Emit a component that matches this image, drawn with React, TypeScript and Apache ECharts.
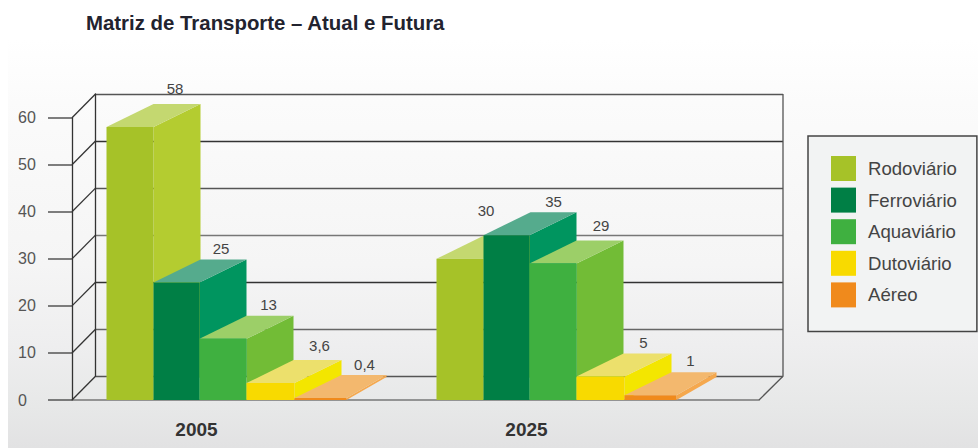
import React, { useEffect, useRef } from "react";
import * as echarts from "echarts";

const years = ["2005", "2025"];
const yTicks = [0, 10, 20, 30, 40, 50, 60];

const rodoviario = [58, 30];
const ferroviario = [25, 35];
const aquaviario = [13, 29];
const dutoviario = [3.6, 5];
const aereo = [0.4, 1];

const modes = ["Rodoviário", "Ferroviário", "Aquaviário", "Dutoviário", "Aéreo"];
const modeValues = [rodoviario, ferroviario, aquaviario, dutoviario, aereo];

// Face colours per mode: front, side, top.
const frontColors = ["#a6c228", "#007f45", "#3fb040", "#f8da00", "#f08a1c"];
const sideColors = ["#b4cc30", "#00955f", "#72bc36", "#f3e600", "#f5a84e"];
const topColors = ["#c4d870", "#55ab8d", "#9ccf68", "#ece06c", "#f3b86e"];

// Back wall line shades, from the top line down.
const wallLineColors = ["#555", "#333", "#555", "#777", "#333", "#666", "#555"];

const FONT = '"Liberation Sans", Arial, sans-serif';

const FRONT = { left: 72, top: 117.7, width: 687, height: 282.3 };
const BARS = { left: 31.5, width: 660 };
const WALL = { dx: 23.5, dy: 23.7 };

// Horizontal bar edges relative to the centre of a year's band.
const BAR_EDGES = [-90, -43, 3, 50, 98, 150];
const DEPTH_X = 47;
const DEPTH_Y = 23;
const THIN_DEPTH_X = 40;

// Per-label adjustments [dx, dy] so a value clears the neighbouring blocks.
const LABEL_NUDGE = [
  [[-2, -5], [-21, -14]],
  [[-2.5, 0], [0, 0]],
  [[-1.5, 0], [1, -4]],
  [[2, -4], [-4, 0]],
  [[-3, 0], [-7, -1]],
];

function formatValue(v: number) {
  return String(v).replace(".", ",");
}

function blockSeries(modeIndex: number) {
  return {
    type: "custom",
    name: modes[modeIndex],
    xAxisIndex: 1,
    yAxisIndex: 1,
    z: 3 + modeIndex,
    itemStyle: { color: frontColors[modeIndex] },
    encode: { x: 0, y: 1 },
    data: modeValues[modeIndex].map((v, i) => [i, v]),
    renderItem: (_params: any, api: any) => {
      const yearIndex = api.value(0);
      const value = api.value(1);
      const [cx, yTop] = api.coord([yearIndex, value]);
      const yBase = api.coord([yearIndex, 0])[1];
      const x0 = cx + BAR_EDGES[modeIndex];
      const x1 = cx + BAR_EDGES[modeIndex + 1];
      const rightDepth = modeIndex === 4 ? THIN_DEPTH_X : DEPTH_X;
      const [nudgeX, nudgeY] = LABEL_NUDGE[modeIndex][yearIndex];
      const face = (points: number[][], fill: string) => ({
        type: "polygon",
        shape: { points },
        style: { fill },
      });
      return {
        type: "group",
        children: [
          face(
            [
              [x1, yBase],
              [x1 + rightDepth, yBase - DEPTH_Y],
              [x1 + rightDepth, yTop - DEPTH_Y],
              [x1, yTop],
            ],
            sideColors[modeIndex]
          ),
          face(
            [
              [x0, yTop],
              [x0 + DEPTH_X, yTop - DEPTH_Y],
              [x1 + rightDepth, yTop - DEPTH_Y],
              [x1, yTop],
            ],
            topColors[modeIndex]
          ),
          face(
            [
              [x0, yBase],
              [x0, yTop],
              [x1, yTop],
              [x1, yBase],
            ],
            frontColors[modeIndex]
          ),
          {
            type: "text",
            x: (x0 + x1) / 2 + DEPTH_X + nudgeX,
            y: yTop - DEPTH_Y - 11 + nudgeY,
            style: {
              text: formatValue(value),
              font: `15px ${FONT}`,
              fill: "#444",
              textAlign: "center",
              textVerticalAlign: "middle",
            },
          },
        ],
      };
    },
  };
}

// Floor and side wall edges joining the front axis to the back wall.
const frameSeries = {
  type: "custom",
  name: "frame",
  xAxisIndex: 0,
  yAxisIndex: 0,
  z: 2,
  silent: true,
  encode: { y: 1 },
  data: yTicks.map((t) => [0, t]),
  renderItem: (params: any, api: any) => {
    const sys = params.coordSys;
    const value = api.value(1);
    const y = api.coord([0, value])[1];
    const line = { stroke: "#333", lineWidth: 1.3, fill: "none" };
    const children: any[] = [
      {
        type: "polyline",
        shape: {
          points: [
            [sys.x, y],
            [sys.x + WALL.dx, y - WALL.dy],
          ],
        },
        style: line,
      },
    ];
    if (value === 0) {
      const xr = sys.x + sys.width;
      children.push({
        type: "polyline",
        shape: {
          points: [
            [xr, y],
            [xr + WALL.dx + 0.5, y - WALL.dy],
            [xr + WALL.dx + 0.5, sys.y - WALL.dy],
          ],
        },
        style: { ...line, stroke: "#555" },
      });
    }
    return { type: "group", children };
  },
};

const valueAxisBase = { type: "value", min: 0, max: 60, interval: 10 };

const option: any = {
  animation: false,
  title: {
    text: "Matriz de Transporte – Atual e Futura",
    left: 86,
    top: 13,
    padding: 0,
    textStyle: { fontFamily: FONT, fontSize: 20.4, fontWeight: "bold", color: "#22232f" },
  },
  legend: {
    data: modes,
    orient: "vertical",
    left: 808,
    top: 136,
    padding: [20, 20, 24, 23],
    icon: "rect",
    itemWidth: 25,
    itemHeight: 25,
    itemGap: 6.6,
    selectedMode: false,
    backgroundColor: "#f2f3f3",
    borderColor: "#444",
    borderWidth: 1.5,
    textStyle: { fontFamily: FONT, fontSize: 18.6, color: "#444", padding: [0, 0, 0, 7] },
  },
  grid: [
    { left: FRONT.left, top: FRONT.top, width: FRONT.width, height: FRONT.height },
    { left: BARS.left, top: FRONT.top, width: BARS.width, height: FRONT.height },
    {
      left: FRONT.left + WALL.dx,
      top: FRONT.top - WALL.dy,
      width: FRONT.width + 0.5,
      height: FRONT.height,
    },
  ],
  xAxis: [
    {
      gridIndex: 0,
      type: "category",
      data: years,
      axisTick: { show: false },
      axisLabel: { show: false },
      axisLine: { lineStyle: { color: "#777", width: 1.5 } },
    },
    {
      gridIndex: 1,
      type: "category",
      data: years,
      axisTick: { show: false },
      axisLine: { show: false },
      axisLabel: {
        margin: 20,
        fontFamily: FONT,
        fontSize: 19,
        fontWeight: "bold",
        color: "#333",
      },
    },
    {
      gridIndex: 2,
      type: "category",
      data: years,
      show: false,
    },
  ],
  yAxis: [
    {
      ...valueAxisBase,
      gridIndex: 0,
      axisLine: { show: true, lineStyle: { color: "#333", width: 1.3 } },
      axisTick: { show: true, length: 24, lineStyle: { color: "#555", width: 1.5 } },
      axisLabel: {
        margin: 54,
        align: "left",
        fontFamily: FONT,
        fontSize: 16,
        color: "#555",
      },
      splitLine: { show: false },
    },
    { ...valueAxisBase, gridIndex: 1, show: false },
    {
      ...valueAxisBase,
      gridIndex: 2,
      axisLine: { show: true, lineStyle: { color: "#333", width: 1.3 } },
      axisTick: { show: false },
      axisLabel: { show: false },
      splitLine: {
        show: true,
        lineStyle: { color: wallLineColors.slice().reverse(), width: 1.4 },
      },
    },
  ],
  series: [frameSeries, ...modes.map((_, i) => blockSeries(i))],
};

export default function App() {
  const ref = useRef<HTMLDivElement>(null);

  useEffect(() => {
    const chart = echarts.init(ref.current!, undefined, { renderer: "svg" });
    chart.setOption(option);
    return () => chart.dispose();
  }, []);

  return (
    <div
      ref={ref}
      style={{
        position: "absolute",
        left: 0,
        top: 0,
        width: 978,
        height: 448,
        backgroundColor: "#fff",
        backgroundImage:
          "linear-gradient(180deg, #ffffff 0%, #fbfbfb 15%, #f5f5f5 55%, #eeeeef 75%, #e7e8e8 90%, #e2e2e3 100%)",
        backgroundPosition: "8px 40px",
        backgroundSize: "970px 408px",
        backgroundRepeat: "no-repeat",
      }}
    />
  );
}
